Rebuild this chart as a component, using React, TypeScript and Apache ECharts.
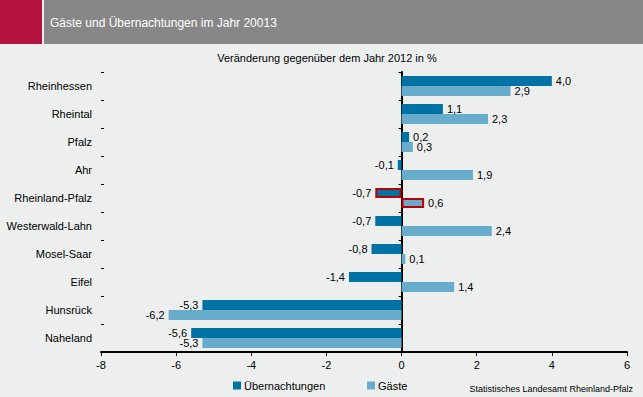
import React, { useEffect, useRef } from "react";
import * as echarts from "echarts";

const categories = [
  "Rheinhessen",
  "Rheintal",
  "Pfalz",
  "Ahr",
  "Rheinland-Pfalz",
  "Westerwald-Lahn",
  "Mosel-Saar",
  "Eifel",
  "Hunsrück",
  "Naheland",
];
const uebernachtungen = [4.0, 1.1, 0.2, -0.1, -0.7, -0.7, -0.8, -1.4, -5.3, -5.6];
const gaeste = [2.9, 2.3, 0.3, 1.9, 0.6, 2.4, 0.1, 1.4, -6.2, -5.3];
const xTicks = { min: -8, max: 6, interval: 2 };

const FONT = "Liberation Sans, Arial, sans-serif";
const DARK = "#0072a3";
const LIGHT = "#67adcb";
const HIGHLIGHT = "Rheinland-Pfalz";

function buildData(values: number[]) {
  return values.map((v, i) => {
    const item: any = {
      value: v,
      label: { position: v < 0 ? "left" : "right" },
    };
    if (categories[i] === HIGHLIGHT) {
      item.itemStyle = { borderColor: "#c00000", borderWidth: 2 };
    }
    return item;
  });
}

export default function App() {
  const ref = useRef<HTMLDivElement>(null);
  useEffect(() => {
    if (!ref.current) return;
    const chart = echarts.init(ref.current, undefined, { renderer: "svg" });
    const labelCfg = {
      show: true,
      color: "#000",
      fontSize: 11,
      fontFamily: FONT,
      distance: 4,
      formatter: (p: any) => Number(p.value).toFixed(1).replace(".", ","),
    };
    chart.setOption({
      animation: false,
      backgroundColor: "#edefee",
      textStyle: { fontFamily: FONT },
      grid: { left: 101, right: 16, top: 72, bottom: 45 },
      legend: [
        {
          data: ["Übernachtungen"],
          left: 228,
          top: 375,
          icon: "rect",
          itemWidth: 8,
          itemHeight: 8,
          itemGap: 4,
          textStyle: { fontSize: 11, color: "#000", fontFamily: FONT, padding: [0, 0, 0, -2] },
        },
        {
          data: ["Gäste"],
          left: 362,
          top: 375,
          icon: "rect",
          itemWidth: 8,
          itemHeight: 8,
          textStyle: { fontSize: 11, color: "#000", fontFamily: FONT, padding: [0, 0, 0, -2] },
        },
      ],
      xAxis: {
        type: "value",
        min: xTicks.min,
        max: xTicks.max,
        interval: xTicks.interval,
        axisLine: { show: true, lineStyle: { color: "#000", width: 2 } },
        axisTick: { show: true, length: 4, lineStyle: { color: "#000", width: 1 } },
        axisLabel: { color: "#000", fontSize: 11, fontFamily: FONT, margin: 7 },
        splitLine: { show: false },
      },
      yAxis: [
        {
          type: "category",
          data: categories,
          inverse: true,
          axisLine: { show: true, onZero: true, lineStyle: { color: "#000", width: 2 } },
          axisTick: { show: true, length: 3, lineStyle: { color: "#000", width: 1 } },
          axisLabel: { show: false },
        },
        {
          type: "category",
          data: categories,
          inverse: true,
          position: "left",
          axisLine: { show: false, onZero: true },
          axisTick: { show: true, inside: true, length: 3, lineStyle: { color: "#000", width: 1 } },
          axisLabel: { show: false },
        },
        {
          type: "category",
          data: categories,
          inverse: true,
          position: "left",
          axisLine: { show: false, onZero: false },
          axisTick: { show: false },
          axisLabel: { color: "#000", fontSize: 11, fontFamily: FONT, margin: 9 },
        },
      ],
      series: [
        {
          name: "Übernachtungen",
          type: "bar",
          yAxisIndex: 0,
          data: buildData(uebernachtungen),
          barWidth: 10,
          barGap: "0%",
          itemStyle: { color: DARK },
          label: labelCfg,
        },
        {
          name: "Gäste",
          type: "bar",
          yAxisIndex: 0,
          data: buildData(gaeste),
          barWidth: 10,
          barGap: "0%",
          itemStyle: { color: LIGHT },
          label: labelCfg,
        },
      ],
      graphic: [
        { type: "rect", shape: { x: 0, y: 0, width: 42, height: 44 }, style: { fill: "#b5123f" } },
        { type: "rect", shape: { x: 44, y: 0, width: 599, height: 44 }, style: { fill: "#878787" } },
        {
          type: "text",
          x: 50,
          y: 23,
          style: {
            text: "Gäste und Übernachtungen im Jahr 20013",
            fill: "#fff",
            font: `12px ${FONT}`,
            textVerticalAlign: "middle",
          },
        },
        {
          type: "text",
          x: 327,
          y: 58,
          style: {
            text: "Veränderung gegenüber dem Jahr 2012 in %",
            fill: "#000",
            font: `11px ${FONT}`,
            textAlign: "center",
            textVerticalAlign: "middle",
          },
        },
        {
          type: "text",
          x: 633,
          y: 389,
          style: {
            text: "Statistisches Landesamt Rheinland-Pfalz",
            fill: "#000",
            font: `9px ${FONT}`,
            textAlign: "right",
            textVerticalAlign: "middle",
          },
        },
      ],
    });
    return () => chart.dispose();
  }, []);
  return (
    <div
      ref={ref}
      style={{ position: "fixed", left: 0, top: 0, width: 643, height: 397 }}
    />
  );
}
